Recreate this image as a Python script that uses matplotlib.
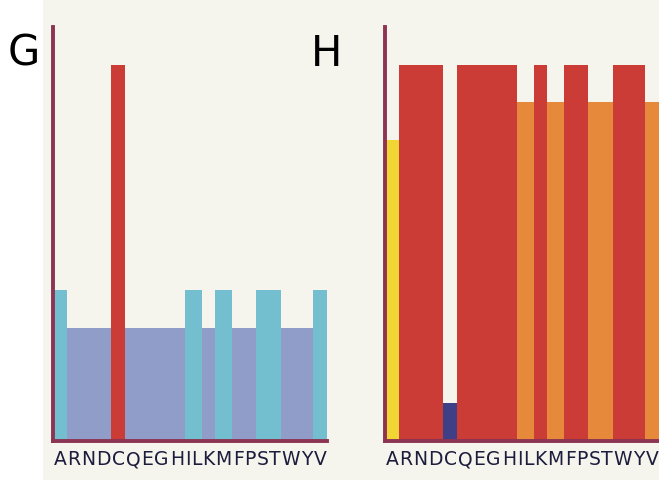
import matplotlib
matplotlib.use("Agg")
import matplotlib.pyplot as plt
from matplotlib import font_manager
from matplotlib.ft2font import FT2Font
from matplotlib.patches import Rectangle


# amino acids in the order shown under each panel
letters = list("ARNDCQEGHILKMFPSTWYV")

# panel G values
g_values = [0.4, 0.3, 0.3, 0.3, 1.0, 0.3, 0.3, 0.3, 0.3, 0.4,
            0.4, 0.3, 0.4, 0.3, 0.3, 0.4, 0.4, 0.3, 0.3, 0.4]

# panel H values
h_values = [0.8, 1.0, 1.0, 1.0, 0.1, 1.0, 1.0, 1.0, 1.0, 0.9,
            0.9, 1.0, 0.9, 1.0, 1.0, 0.9, 0.9, 1.0, 1.0, 0.9]

# colour by value
value_colors = {
    0.1: "#3e3f87",
    0.3: "#8f9dc8",
    0.4: "#74bfcf",
    0.8: "#f0d535",
    0.9: "#e6893b",
    1.0: "#cb3c37",
}

beige = "#f5f4ed"
spine_color = "#8c3452"
text_color = "#1c1c3c"

# bar widths follow the width of each letter in the label font
font = FT2Font(font_manager.findfont("DejaVu Sans"))
font.set_size(12, 72)
widths = [font.load_char(ord(c)).linearHoriAdvance / 65536 for c in letters]
lefts = [sum(widths[:i]) for i in range(len(widths))]
centers = [l + w / 2 for l, w in zip(lefts, widths)]
total = sum(widths)

fig = plt.figure(figsize=(6.59, 4.81), dpi=100)
fig.patches.append(Rectangle((43 / 659, 0), 1, 1, transform=fig.transFigure,
                             facecolor=beige, edgecolor="none", zorder=-5))


def panel(rect, values, label, label_x):
    ax = fig.add_axes(rect)
    ax.set_facecolor("none")
    colors = [value_colors[v] for v in values]
    ax.bar(lefts, values, width=widths, align="edge", color=colors,
           linewidth=0)
    ax.set_xlim(0, total)
    ax.set_ylim(0, 1.1)
    for s in ["top", "right"]:
        ax.spines[s].set_visible(False)
    for s in ["left", "bottom"]:
        ax.spines[s].set_color(spine_color)
        ax.spines[s].set_linewidth(2.8)
    ax.set_yticks([])
    ax.set_xticks(centers)
    ax.set_xticklabels(letters, fontsize=13.5, color=text_color,
                       family="DejaVu Sans")
    ax.tick_params(axis="x", length=0, pad=6)
    fig.text(label_x, 1 - 54 / 481, label, fontsize=30, color="black",
             ha="center", va="center", family="DejaVu Sans")
    return ax


panel([53 / 659, 39 / 481, 274 / 659, 414 / 481], g_values, "G", 24 / 659)
panel([385 / 659, 39 / 481, 274 / 659, 414 / 481], h_values, "H", 327 / 659)

fig.savefig("out.png", dpi=100)
